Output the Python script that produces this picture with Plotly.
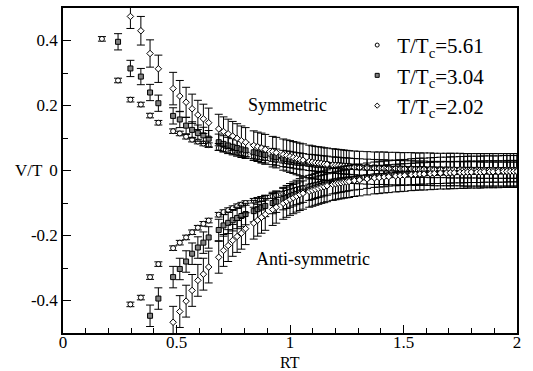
import plotly.graph_objects as go

# Shared RT positions
RT = [0.1715, 0.2425, 0.2970, 0.3430, 0.3835, 0.4201, 0.4851, 0.5145, 0.5423, 0.5688,
      0.5941, 0.6184, 0.6417, 0.6860, 0.7071, 0.7276, 0.7475, 0.7670, 0.7859, 0.8044,
      0.8402, 0.8575, 0.8745, 0.8911, 0.9236, 0.9393, 0.9701, 0.9852, 1.0000, 1.0146,
      1.0290, 1.0432, 1.0572, 1.0847, 1.0981, 1.1114, 1.1246, 1.1376, 1.1505, 1.1632,
      1.1882, 1.2005, 1.2127, 1.2248, 1.2367, 1.2485, 1.2603, 1.2834, 1.3061, 1.3395,
      1.3720, 1.3933, 1.4142, 1.4349, 1.4653, 1.4852, 1.5049, 1.5339, 1.5530, 1.5718,
      1.5904, 1.6179, 1.6360, 1.6627, 1.6891, 1.7064, 1.7236, 1.7490, 1.7657, 1.7823,
      1.7987, 1.8231, 1.8391, 1.8551, 1.8787, 1.8943, 1.9174, 1.9403, 1.9554, 1.9704,
      1.9853, 2.0000]

# T/Tc = 5.61 (circles)
sym_561 = [0.405, 0.277, 0.218, 0.203, 0.169, 0.147, 0.121, 0.114, 0.104, 0.095,
           0.089, 0.083, 0.078, 0.069, 0.065, 0.061, 0.058, 0.055, 0.052, 0.049,
           0.044, 0.042, 0.040, 0.038, 0.035, 0.033, 0.030, 0.028, 0.027, 0.026,
           0.024, 0.023, 0.022, 0.020, 0.019, 0.018, 0.017, 0.016, 0.016, 0.015,
           0.014, 0.013, 0.013, 0.012, 0.012, 0.011, 0.011, 0.010, 0.009, 0.008,
           0.007, 0.007, 0.006, 0.006, 0.005, 0.005, 0.005, 0.004, 0.004, 0.004,
           0.003, 0.003, 0.003, 0.003, 0.002, 0.002, 0.002, 0.002, 0.002, 0.002,
           0.002, 0.001, 0.001, 0.001, 0.001, 0.001, 0.001, 0.001, 0.001, 0.001,
           0.001, 0.001]
anti_561 = [None, None, -0.412, -0.391, -0.328, -0.288, -0.239, -0.222, -0.206, -0.190,
            -0.176, -0.164, -0.154, -0.136, -0.128, -0.122, -0.116, -0.110, -0.105, -0.100,
            -0.093, -0.090, -0.087, -0.084, -0.079, -0.076, -0.071, -0.068, -0.065, -0.062,
            -0.059, -0.057, -0.054, -0.049, -0.047, -0.045, -0.043, -0.041, -0.039, -0.037,
            -0.034, -0.033, -0.031, -0.030, -0.029, -0.028, -0.027, -0.025, -0.023, -0.020,
            -0.018, -0.017, -0.016, -0.015, -0.013, -0.012, -0.011, -0.010, -0.009, -0.009,
            -0.008, -0.007, -0.007, -0.006, -0.006, -0.005, -0.005, -0.005, -0.004, -0.004,
            -0.004, -0.004, -0.003, -0.003, -0.003, -0.003, -0.003, -0.002, -0.002, -0.002,
            -0.002, -0.002]
err_561 = 0.007

# T/Tc = 3.04 (squares)
sym_304 = [None, 0.396, 0.314, 0.289, 0.240, 0.207, 0.168, 0.157, 0.138, 0.125,
           0.115, 0.108, 0.098, 0.087, 0.082, 0.077, 0.073, 0.069, 0.065, 0.062,
           0.056, 0.053, 0.050, 0.048, 0.043, 0.041, 0.037, 0.035, 0.034, 0.032,
           0.030, 0.029, 0.027, 0.025, 0.024, 0.023, 0.022, 0.021, 0.020, 0.019,
           0.017, 0.016, 0.016, 0.015, 0.014, 0.014, 0.013, 0.012, 0.011, 0.010,
           0.009, 0.008, 0.008, 0.007, 0.006, 0.006, 0.005, 0.005, 0.004, 0.004,
           0.004, 0.003, 0.003, 0.003, 0.003, 0.002, 0.002, 0.002, 0.002, 0.002,
           0.002, 0.002, 0.001, 0.001, 0.001, 0.001, 0.001, 0.001, 0.001, 0.001,
           0.001, 0.001]
anti_304 = [None, None, None, None, -0.447, -0.394, -0.328, -0.303, -0.280, -0.256,
            -0.237, -0.222, -0.206, -0.183, -0.169, -0.161, -0.153, -0.146, -0.140, -0.134,
            -0.125, -0.119, -0.114, -0.109, -0.100, -0.096, -0.088, -0.084, -0.080, -0.076,
            -0.072, -0.068, -0.065, -0.059, -0.056, -0.053, -0.050, -0.048, -0.045, -0.043,
            -0.039, -0.037, -0.035, -0.034, -0.032, -0.031, -0.029, -0.027, -0.025, -0.022,
            -0.019, -0.018, -0.017, -0.015, -0.014, -0.013, -0.012, -0.011, -0.010, -0.009,
            -0.009, -0.008, -0.007, -0.007, -0.006, -0.006, -0.005, -0.005, -0.005, -0.004,
            -0.004, -0.004, -0.004, -0.003, -0.003, -0.003, -0.003, -0.003, -0.002, -0.002,
            -0.002, -0.002]
err_304_sym = 0.025
err_304_anti = 0.033

# T/Tc = 2.02 (diamonds)
sym_202 = [None, None, 0.474, 0.430, 0.360, 0.313, 0.252, 0.229, 0.210, 0.190,
           0.171, 0.159, 0.147, 0.128, 0.120, 0.113, 0.106, 0.099, 0.092, 0.087,
           0.077, 0.073, 0.069, 0.065, 0.058, 0.055, 0.049, 0.046, 0.043, 0.040,
           0.037, 0.034, 0.032, 0.028, 0.026, 0.024, 0.023, 0.022, 0.020, 0.019,
           0.017, 0.016, 0.015, 0.014, 0.013, 0.012, 0.011, 0.010, 0.009, 0.008,
           0.007, 0.007, 0.007, 0.006, 0.006, 0.005, 0.005, 0.005, 0.004, 0.004,
           0.004, 0.004, 0.003, 0.003, 0.003, 0.003, 0.003, 0.003, 0.002, 0.002,
           0.002, 0.002, 0.002, 0.002, 0.002, 0.002, 0.002, 0.002, 0.002, 0.002,
           0.002, 0.002]
anti_202 = [None, None, None, None, None, None, -0.467, -0.434, -0.402, -0.369,
            -0.338, -0.319, -0.297, -0.267, -0.246, -0.231, -0.215, -0.203, -0.193, -0.179,
            -0.162, -0.153, -0.144, -0.135, -0.120, -0.113, -0.101, -0.095, -0.089, -0.084,
            -0.079, -0.074, -0.070, -0.064, -0.061, -0.058, -0.055, -0.052, -0.050, -0.047,
            -0.043, -0.041, -0.039, -0.038, -0.036, -0.035, -0.034, -0.031, -0.029, -0.026,
            -0.023, -0.022, -0.020, -0.019, -0.017, -0.016, -0.015, -0.013, -0.012, -0.011,
            -0.011, -0.010, -0.009, -0.008, -0.008, -0.007, -0.007, -0.006, -0.006, -0.005,
            -0.005, -0.005, -0.005, -0.004, -0.004, -0.004, -0.004, -0.003, -0.003, -0.003,
            -0.003, -0.003]
err_202_sym = [None, None, 0.037, 0.044, 0.042, 0.042, 0.050, 0.048, 0.046, 0.045,
               0.045, 0.045, 0.045, 0.045, 0.045, 0.045, 0.045, 0.045, 0.045, 0.045,
               0.045, 0.045, 0.046, 0.046, 0.047, 0.047, 0.048, 0.048, 0.049, 0.049,
               0.050, 0.050, 0.050, 0.050, 0.050, 0.050, 0.050, 0.050, 0.050, 0.050,
               0.050, 0.050, 0.050, 0.050, 0.050, 0.050, 0.050, 0.050, 0.050, 0.050,
               0.050, 0.050, 0.050, 0.050, 0.050, 0.050, 0.050, 0.050, 0.050, 0.050,
               0.050, 0.050, 0.050, 0.050, 0.050, 0.050, 0.050, 0.050, 0.050, 0.050,
               0.050, 0.050, 0.050, 0.050, 0.050, 0.050, 0.050, 0.050, 0.050, 0.050,
               0.050, 0.050]
err_202_anti = 0.049

series_names = ["T/T<sub>c</sub>=5.61", "T/T<sub>c</sub>=3.04", "T/T<sub>c</sub>=2.02"]

x_tickvals = [0, 0.5, 1, 1.5, 2]
x_ticktext = ["0", "0.5", "1", "1.5", "2"]
y_tickvals = [0.4, 0.2, 0, -0.2, -0.4]
y_ticktext = ["0.4", "0.2", "0", "-0.2", "-0.4"]

FONT = "Liberation Serif, Times New Roman, Times, serif"

fig = go.Figure()

styles = [
    dict(symbol="circle", size=5, color="white", lsize=4),
    dict(symbol="square", size=5, color="#808080", lsize=4),
    dict(symbol="diamond", size=5, color="white", lsize=4),
]
data = [
    (sym_561, anti_561, err_561, err_561),
    (sym_304, anti_304, err_304_sym, err_304_anti),
    (sym_202, anti_202, err_202_sym, err_202_anti),
]


def err_spec(e):
    if isinstance(e, list):
        return dict(type="data", array=e, visible=True, color="black", thickness=1, width=4)
    return dict(type="constant", value=e, visible=True, color="black", thickness=1, width=4)


for name, st, (s, a, es, ea) in zip(series_names, styles, data):
    mk = dict(symbol=st["symbol"], size=st["size"], color=st["color"],
              line=dict(color="black", width=1))
    fig.add_trace(go.Scatter(x=RT, y=s, mode="markers", name=name, legendgroup=name,
                             showlegend=False, marker=mk, error_y=err_spec(es)))
    fig.add_trace(go.Scatter(x=RT, y=a, mode="markers", name=name, legendgroup=name,
                             showlegend=False, marker=mk, error_y=err_spec(ea)))
    # legend entry (small marker like the reference)
    fig.add_trace(go.Scatter(x=[None], y=[None], mode="markers", name=name, legendgroup=name,
                             marker=dict(symbol=st["symbol"], size=st["lsize"], color=st["color"],
                                         line=dict(color="black", width=1))))

axis_common = dict(showgrid=False, zeroline=False, showline=True, linecolor="black",
                   linewidth=1.5, mirror=True, ticks="inside", ticklen=8, tickwidth=1,
                   tickcolor="black", automargin=False,
                   tickfont=dict(family=FONT, size=17, color="black"))

fig.update_xaxes(range=[0, 2], tickvals=x_tickvals, ticktext=x_ticktext,
                 minor=dict(dtick=0.1, tick0=0, ticks="inside", ticklen=5, tickcolor="black"),
                 ticklabelstandoff=-7,
                 **axis_common)
fig.update_yaxes(range=[-0.5, 0.5], tickvals=y_tickvals, ticktext=y_ticktext,
                 minor=dict(dtick=0.1, tick0=0, ticks="inside", ticklen=5, tickcolor="black"),
                 **axis_common)

fig.add_annotation(x=0.5, y=-0.09, xref="paper", yref="paper", xanchor="center", yanchor="middle",
                   text="RT", showarrow=False, borderpad=0,
                   font=dict(family=FONT, size=16, color="black"))
fig.add_annotation(x=-0.04, y=0, xref="paper", yref="y", xanchor="right", yanchor="middle",
                   text="V/T", showarrow=False, font=dict(family=FONT, size=17, color="black"))
fig.add_annotation(x=0.99, y=0.203, xref="x", yref="y", text="Symmetric", showarrow=False,
                   font=dict(family=FONT, size=18, color="black"))
fig.add_annotation(x=1.10, y=-0.272, xref="x", yref="y", text="Anti-symmetric", showarrow=False,
                   font=dict(family=FONT, size=18, color="black"))

fig.update_layout(
    width=533, height=371,
    margin=dict(l=63, r=16, t=8, b=38),
    paper_bgcolor="white", plot_bgcolor="white",
    showlegend=True,
    legend=dict(x=0.648, y=0.948, xanchor="left", yanchor="top", bgcolor="rgba(0,0,0,0)",
                font=dict(family=FONT, size=21, color="black"), tracegroupgap=0,
                itemwidth=30),
)

fig.write_html("out.html")
